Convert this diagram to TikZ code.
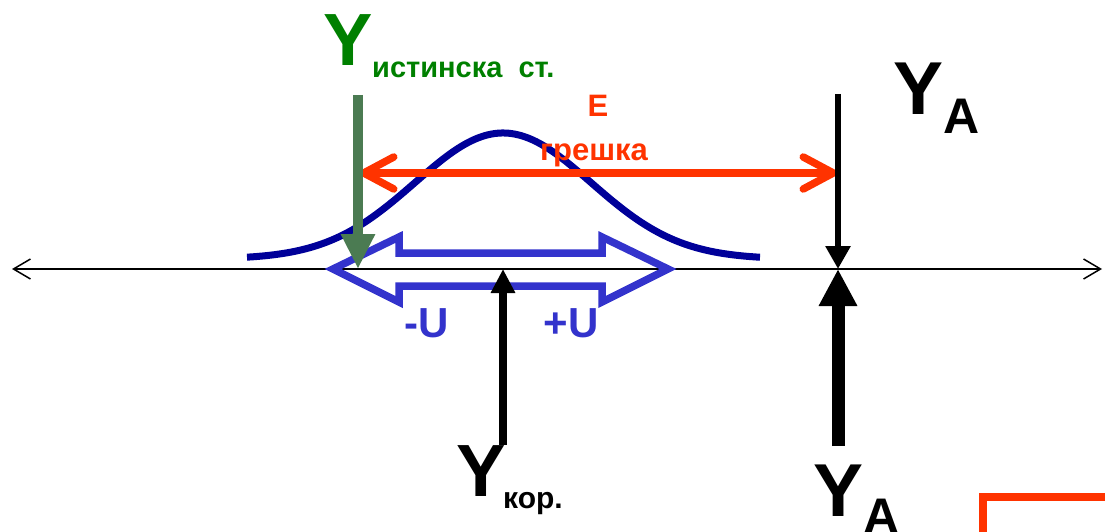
\documentclass[tikz,border=0pt]{standalone}
\usepackage{fontspec}
\setmainfont{Liberation Sans}
\usetikzlibrary{arrows.meta}
\definecolor{tgreen}{RGB}{0,128,0}
\definecolor{agreen}{RGB}{75,123,82}
\definecolor{tred}{RGB}{255,51,0}
\definecolor{tblue}{RGB}{51,51,204}
\definecolor{tnavy}{RGB}{0,0,153}
\tikzset{
  lbl/.style={inner sep=0pt, font=\bfseries},
  fs/.style={font=\bfseries\fontsize{#1}{#1}\selectfont},
}
\begin{document}
\begin{tikzpicture}[x=1pt,y=-1pt]
\useasboundingbox (0,0) rectangle (1105,532);
% coordinates
\coordinate (axL) at (12,269);
\coordinate (axR) at (1102,269);
\coordinate (gTop) at (358,95);
\coordinate (gTip) at (358,269);
\coordinate (eL) at (360,173);
\coordinate (eR) at (837,173);
\coordinate (aTop) at (838,94);
\coordinate (aTip) at (838,269);
\coordinate (aBot) at (838,446);
\coordinate (kBot) at (503,445);
\coordinate (kTip) at (503,269);
% axis
\draw[line width=1.5pt, {Straight Barb[length=17pt,width=20pt]}-{Straight Barb[length=17pt,width=20pt]}] (axL) -- (axR);
% blue double arrow (outline)
\draw[tblue, line width=7.5pt, line join=miter]
  (333,269) -- (399,237) -- (399,253) -- (602,253) -- (602,237) -- (668,269)
  -- (602,302) -- (602,286) -- (399,286) -- (399,302) -- cycle;
% gaussian
\draw[tnavy, line width=7pt]
  plot[domain=247:760, samples=150, smooth] (\x,{259-126*exp(-0.5*((\x-503)/88)*((\x-503)/88))});
% red error arrow
\draw[tred, line width=7.5pt, {Straight Barb[length=30pt,width=32pt,round]}-{Straight Barb[length=30pt,width=32pt,round]}] (eL) -- (eR);
% black arrows
\draw[line width=6.5pt, -{Triangle[length=23pt,width=24pt]}] (aTop) -- (aTip);
\draw[line width=13pt, -{Triangle[length=37pt,width=36pt]}] (aBot) -- (aTip);
\draw[line width=8pt, -{Triangle[length=24pt,width=23pt]}] (kBot) -- (kTip);
% green arrow
\draw[agreen, line width=10.5pt, -{Triangle[length=35pt,width=32pt]}] (gTop) -- (gTip);
% red rectangle (partly outside)
\draw[tred, line width=8pt] (983,497) rectangle (1200,620);
% texts
\node[lbl, fs=74, text=tgreen, anchor=base west] (yist) at (323,66) {Y};
\node[lbl, fs=29, text=tgreen, anchor=base west] (ist) at (372,78) {истинска\ \ ст.};
\node[lbl, fs=31, text=tred, anchor=base] (E) at (598,117) {E};
\node[lbl, fs=31, text=tred, anchor=base west] (gr) at (540,160) {грешка};
\node[lbl, fs=42, text=tblue, anchor=base] (mU) at (427,337) {-U};
\node[lbl, fs=42, text=tblue, anchor=base] (pU) at (571,337) {+U};
\node[lbl, fs=75, anchor=base west] (ya1) at (893,114) {Y};
\node[lbl, fs=50, anchor=base west] (a1) at (943,133) {A};
\node[lbl, fs=75, anchor=base west] (ya2) at (813,516) {Y};
\node[lbl, fs=50, anchor=base west] (a2) at (863,533) {A};
\node[lbl, fs=74, anchor=base west] (yk) at (456,496) {Y};
\node[lbl, fs=30, anchor=base west] (kor) at (503,508) {кор.};
\end{tikzpicture}
\end{document}
